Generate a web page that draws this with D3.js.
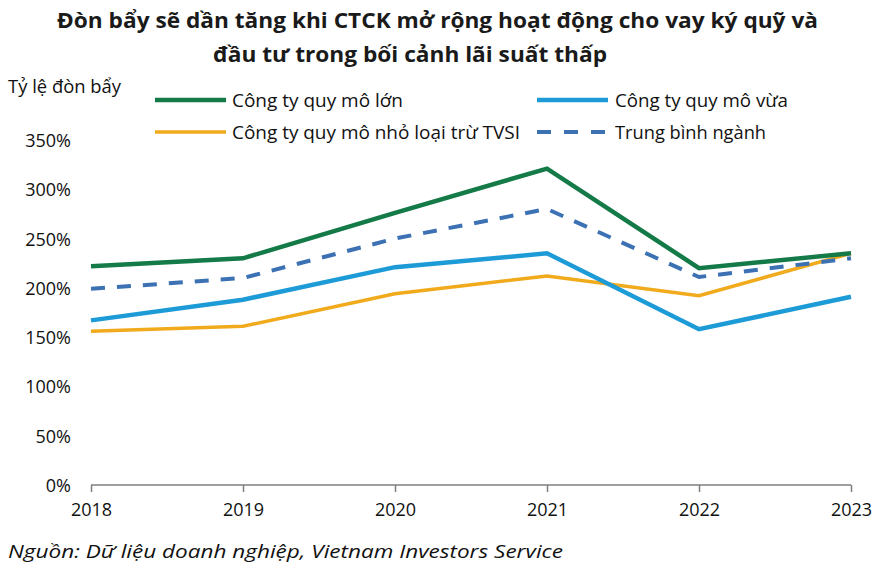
<!DOCTYPE html>
<html><head><meta charset="utf-8">
<script src="https://cdn.jsdelivr.net/npm/d3@7"></script>
<style>html,body{margin:0;padding:0;background:#fff}svg{display:block}</style>
</head><body>
<svg id="c" width="883" height="568"></svg>
<script>
const years = ["2018","2019","2020","2021","2022","2023"];
const large = [222, 230, 276, 321, 220, 235];
const medium = [167, 188, 221, 235, 158, 191];
const small = [156, 161, 194, 212, 192, 235];
const average = [199, 210, 250, 280, 211, 230];
const yTicks = [0, 50, 100, 150, 200, 250, 300, 350];
const seriesNames = ["Công ty quy mô lớn", "Công ty quy mô vừa", "Công ty quy mô nhỏ loại trừ TVSI", "Trung bình ngành"];
const titleLines = ["Đòn bẩy sẽ dần tăng khi CTCK mở rộng hoạt động cho vay ký quỹ và", "đầu tư trong bối cảnh lãi suất thấp"];
const yAxisTitle = "Tỷ lệ đòn bẩy";
const sourceText = "Nguồn: Dữ liệu doanh nghiệp, Vietnam Investors Service";

const svg = d3.select("#c");
const FONT = "'Open Sans', 'Noto Sans', sans-serif";

function squeeze(sel, w) {
  return sel.attr("textLength", w).attr("lengthAdjust", "spacingAndGlyphs");
}

const x = d3.scalePoint().domain(years).range([91, 851]);
const y = d3.scaleLinear().domain([0, 350]).range([485, 140]);

// title
squeeze(svg.append("text").attr("x", 57).attr("y", 28)
  .attr("font-family", FONT).attr("font-weight", "bold").attr("font-size", 21).attr("fill", "#1a1a1a")
  .text(titleLines[0]), 761);
squeeze(svg.append("text").attr("x", 213).attr("y", 61.5)
  .attr("font-family", FONT).attr("font-weight", "bold").attr("font-size", 21).attr("fill", "#1a1a1a")
  .text(titleLines[1]), 394);

// y axis title
squeeze(svg.append("text").attr("x", 8).attr("y", 93)
  .attr("font-family", FONT).attr("font-size", 18).attr("fill", "#111").text(yAxisTitle), 113);

// y tick labels
const yAxis = d3.axisLeft(y).tickValues(yTicks).tickFormat(d => d + "%").tickSize(0).tickPadding(0);
const yg = svg.append("g").attr("transform", "translate(71,0)").call(yAxis);
yg.select(".domain").remove();
yg.selectAll("text").attr("font-family", FONT).attr("font-size", 18).attr("fill", "#111").attr("dy", "0.36em");

// x axis
const xAxis = d3.axisBottom(x).tickSize(7).tickPadding(9).tickSizeOuter(0);
const xg = svg.append("g").attr("transform", "translate(0,485)").call(xAxis);
xg.select(".domain").attr("stroke", "#7f7f7f").attr("stroke-width", 1.5).attr("d", `M${x(years[0])},0H${x(years[years.length-1])}`);
xg.selectAll(".tick line").attr("stroke", "#7f7f7f").attr("stroke-width", 1.5);
xg.selectAll("text").attr("font-family", FONT).attr("font-size", 18).attr("fill", "#111").attr("dy", "0.85em");

// lines
const line = d3.line().x((d, i) => x(years[i])).y(d => y(d));
const series = [
  {name: seriesNames[0], data: large, color: "#137a48", w: 4.5, dash: null},
  {name: seriesNames[1], data: medium, color: "#1d9bd7", w: 4.5, dash: null},
  {name: seriesNames[2], data: small, color: "#f0aa1c", w: 3.5, dash: null},
  {name: seriesNames[3], data: average, color: "#3c71b4", w: 4, dash: "14,12"}
];
const drawOrder = [2, 1, 3, 0];
drawOrder.forEach(k => {
  const s = series[k];
  svg.append("path").datum(s.data).attr("d", line).attr("fill", "none")
    .attr("stroke", s.color).attr("stroke-width", s.w).attr("stroke-linejoin", "miter")
    .attr("stroke-dasharray", s.dash);
});

// legend
const legendPos = [
  {lx: 155, ty: 100, tx: 232, tw: 171},
  {lx: 537, ty: 100, tx: 615, tw: 173},
  {lx: 155, ty: 132, tx: 232, tw: 288},
  {lx: 537, ty: 132, tx: 615, tw: 151}
];
series.forEach((s, i) => {
  const p = legendPos[i];
  svg.append("line").attr("x1", p.lx).attr("x2", p.lx + 71).attr("y1", p.ty).attr("y2", p.ty)
    .attr("stroke", s.color).attr("stroke-width", s.w).attr("stroke-dasharray", s.dash ? "14,13" : null);
  squeeze(svg.append("text").attr("x", p.tx).attr("y", p.ty + 6.5)
    .attr("font-family", FONT).attr("font-size", 18.5).attr("fill", "#111").text(s.name), p.tw);
});

// source
squeeze(svg.append("text").attr("x", 8).attr("y", 558)
  .attr("font-family", FONT).attr("font-style", "italic").attr("font-size", 19).attr("fill", "#111").text(sourceText), 555);
</script>
</body></html>
